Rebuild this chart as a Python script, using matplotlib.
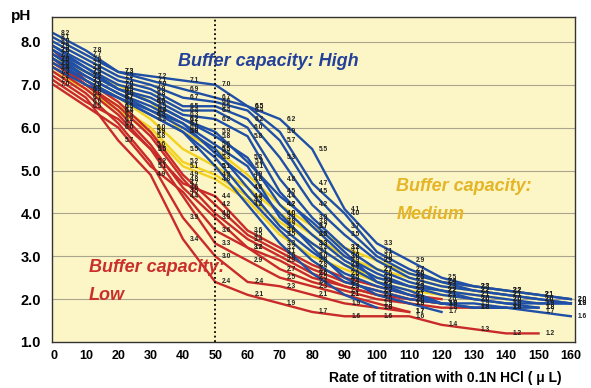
import matplotlib.pyplot as plt

plt.rcParams['font.family'] = ['Liberation Sans', 'DejaVu Sans']

# titration volume (uL), one reading every 10 uL
x_points = [0, 10, 20, 30, 40, 50, 60, 70, 80, 90, 100, 110, 120, 130, 140, 150, 160]

# pH readings, high buffer capacity (blue)
blue_curves = [
    [8.2, 7.8, 7.3, 7.2, 7.1, 7.0, 6.5, 6.2, 5.5, 4.1, 3.3, 2.9, 2.5, 2.3, 2.2, 2.1, 2.0],
    [8.1, 7.7, 7.3, 7.1, 6.9, 6.7, 6.5, 5.9, 4.7, 4.0, 3.1, 2.7, 2.4, 2.3, 2.2, 2.1, 2.0],
    [8.0, 7.6, 7.2, 7.0, 6.7, 6.6, 6.4, 5.7, 4.5, 3.7, 3.0, 2.6, 2.4, 2.2, 2.1, 2.0, 1.9],
    [7.9, 7.5, 7.1, 6.9, 6.5, 6.5, 6.2, 5.3, 4.2, 3.5, 2.9, 2.5, 2.3, 2.2, 2.1, 2.0, 1.9],
    [7.9, 7.4, 7.0, 6.8, 6.4, 6.4, 6.0, 4.8, 3.9, 3.2, 2.7, 2.4, 2.2, 2.1, 2.0, 1.9, 1.9],
    [7.8, 7.4, 6.9, 6.7, 6.3, 6.2, 5.8, 4.5, 3.7, 3.0, 2.6, 2.3, 2.2, 2.0, 1.9, 1.9, 1.9],
    [7.7, 7.3, 6.9, 6.6, 6.2, 5.8, 5.3, 4.2, 3.5, 2.9, 2.5, 2.3, 2.1, 2.0, 1.9, 1.8],
    [7.7, 7.2, 6.8, 6.5, 6.1, 5.6, 5.1, 3.9, 3.3, 2.8, 2.4, 2.2, 1.9, 1.8, 1.8, 1.7, 1.6],
    [7.6, 7.2, 6.8, 6.4, 6.0, 5.5, 4.6, 3.7, 3.1, 2.6, 2.3, 2.1, 1.9, 1.8, 1.8],
    [7.8, 7.3, 6.9, 6.6, 6.2, 5.9, 5.2, 4.4, 3.8, 3.1, 2.4, 2.1, 1.9],
    [7.5, 7.1, 6.7, 6.4, 6.1, 5.4, 4.8, 4.0, 3.2, 2.5, 2.1, 1.9, 1.7],
    [7.4, 7.0, 6.7, 6.3, 5.9, 5.3, 4.4, 3.6, 2.9, 2.4, 2.2, 2.0, 1.9, 1.9, 1.8, 1.8],
    [7.6, 7.1, 6.7, 6.3, 5.9, 5.1, 4.2, 3.3, 2.6, 2.1, 1.8],
]

# medium buffer capacity (yellow)
yellow_curves = [
    [7.6, 7.3, 7.0, 6.6, 5.9, 5.5, 4.9, 4.2, 3.7, 3.2, 2.9, 2.6, 2.4, 2.3, 2.2, 2.1],
    [7.5, 7.1, 6.7, 6.2, 5.5, 5.1, 4.6, 4.0, 3.5, 3.0, 2.7, 2.5, 2.3, 2.2, 2.1, 2.0],
    [7.4, 7.0, 6.5, 6.0, 5.2, 4.9, 4.4, 3.8, 3.3, 2.8, 2.5, 2.3, 2.2, 2.1, 2.0],
    [7.3, 6.9, 6.4, 5.9, 5.1, 4.8, 4.3, 3.5, 3.0, 2.7, 2.4, 2.2, 2.1, 2.0],
]

# low buffer capacity (red)
red_curves = [
    [7.2, 6.7, 5.7, 4.9, 3.4, 2.4, 2.1, 1.9, 1.7, 1.6, 1.6, 1.6, 1.4, 1.3, 1.2, 1.2],
    [7.3, 6.8, 6.1, 5.2, 3.9, 3.0, 2.4, 2.3, 2.1, 1.9, 1.8, 1.7],
    [7.4, 6.9, 6.3, 5.5, 4.4, 3.3, 2.9, 2.5, 2.3, 2.1, 1.9, 1.7],
    [7.5, 7.0, 6.4, 5.6, 4.6, 3.9, 3.2, 2.7, 2.4, 2.2, 2.0, 1.9, 1.8, 1.8, 1.8],
    [7.6, 7.0, 6.5, 5.8, 4.8, 4.0, 3.4, 3.0, 2.6, 2.3, 2.1, 2.0, 1.9],
    [7.8, 7.1, 6.6, 5.9, 4.9, 4.2, 3.5, 3.1, 2.7, 2.4, 2.2, 2.0, 1.9],
    [7.1, 6.6, 6.2, 5.5, 4.7, 4.4, 3.6, 3.2, 2.8, 2.5, 2.3, 2.1, 2.0],
    [7.0, 6.5, 6.0, 5.1, 4.5, 3.6, 3.2, 2.9, 2.5, 2.3, 2.1, 1.9],
]

fig = plt.figure(figsize=(5.91, 3.88), dpi=100)
ax = fig.add_axes([0.088, 0.1186, 0.885, 0.8374])
ax.set_facecolor('#fcf5c6')

for y in range(2, 9):
    ax.axhline(y, color='#aaa58e', lw=0.8, zorder=0)

groups = [(yellow_curves, '#f2d21e'), (red_curves, '#c92a2a'), (blue_curves, '#1f4fa6')]
for curves, color in groups:
    for vals in curves:
        xs = x_points[:len(vals)]
        ax.plot(xs, vals, color=color, lw=1.7, zorder=2)

# value labels next to every reading
for curves, color in groups:
    for vals in curves:
        for xv, yv in zip(x_points, vals):
            ax.text(xv + 3.5, yv, f"{yv:.1f}", fontsize=4.8, fontweight='bold',
                    ha='center', va='center', color='#222222', zorder=4, clip_on=False)

ax.axvline(50, color='black', ls=(0, (1, 1.5)), lw=1.3, zorder=3)

lbl = dict(fontsize=13, fontweight='bold', fontstyle='italic', va='center', zorder=5)
ax.text(38.5, 7.55, 'Buffer capacity: High', color='#24419a', **lbl)
ax.text(106, 4.62, 'Buffer capacity:', color='#e4b526', **lbl)
ax.text(106, 3.97, 'Medium', color='#e4b526', **lbl)
ax.text(11, 2.73, 'Buffer capacity:', color='#c9302c', **lbl)
ax.text(11, 2.08, 'Low', color='#c9302c', **lbl)

ax.set_xlim(-0.5, 161.3)
ax.set_ylim(1.0, 8.58)
ax.set_xticks(range(0, 161, 10))
ax.set_yticks(range(1, 9))
ax.set_yticklabels([f"{v:.1f}" for v in range(1, 9)])
ax.tick_params(axis='y', length=0, pad=8, labelsize=10.5)
ax.tick_params(axis='x', length=0, pad=6, labelsize=9)
for lab in ax.get_xticklabels() + ax.get_yticklabels():
    lab.set_fontweight('bold')
for sp in ax.spines.values():
    sp.set_color('#333333')
    sp.set_linewidth(1.0)

fig.text(0.036, 0.958, 'pH', fontsize=11, fontweight='bold', ha='center', va='center')
fig.text(0.951, 0.026, 'Rate of titration with 0.1N HCl ( \u03bc L)', fontsize=10,
         fontweight='bold', ha='right', va='center')

fig.savefig('out.png', dpi=100)
